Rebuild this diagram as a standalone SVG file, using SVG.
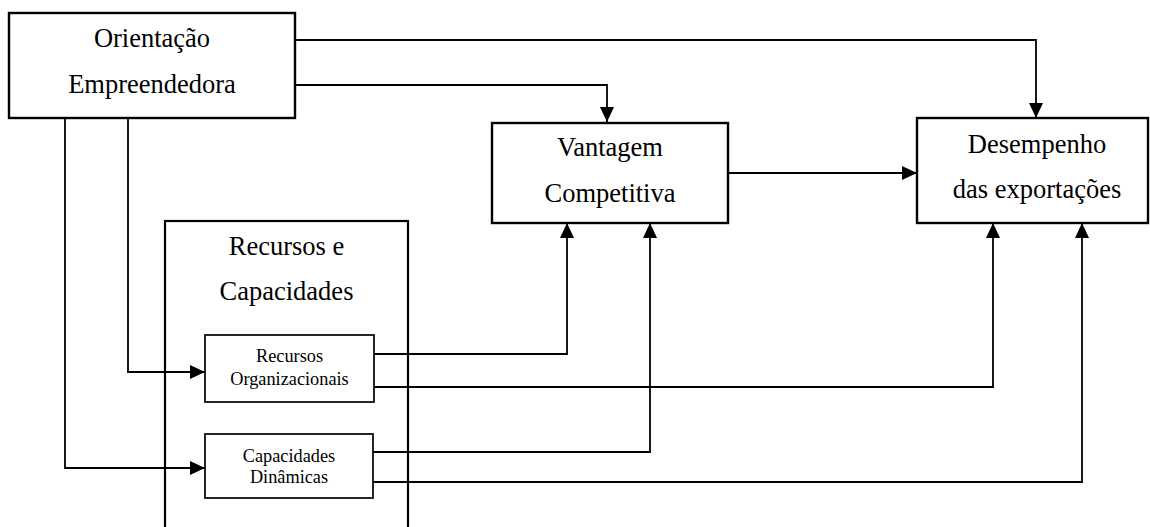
<svg xmlns="http://www.w3.org/2000/svg" width="1150" height="527" viewBox="0 0 1150 527">
<style>
.box{fill:#fff;stroke:#000;stroke-width:2.4}
.sbox{fill:#fff;stroke:#000;stroke-width:1.7}
.big{font-family:"Liberation Serif","Times New Roman",serif;font-size:26.5px;fill:#000;text-anchor:middle}
.small{font-family:"Liberation Serif","Times New Roman",serif;font-size:18.3px;fill:#000;text-anchor:middle}
.conn{fill:none;stroke:#000;stroke-width:1.8;marker-end:url(#arr)}
</style>
<defs>
<marker id="arr" markerUnits="userSpaceOnUse" markerWidth="15" markerHeight="14" refX="15" refY="7" orient="auto">
<path d="M0,0 L15,7 L0,14 z" fill="#000"/>
</marker>
</defs>
<rect width="1150" height="527" fill="#fff"/>
<g id="container-recursos-capacidades">
<rect class="sbox" x="165" y="221" width="243" height="320" style="stroke-width:2.2"/>
<text class="big" x="286.5" y="255">Recursos e</text>
<text class="big" x="286.5" y="300">Capacidades</text>
</g>
<g id="connectors">
<path class="conn" d="M295,40 H1036 V118"/>
<path class="conn" d="M295,85 H607 V122"/>
<path class="conn" d="M128,118 V372 H205"/>
<path class="conn" d="M65,118 V468 H205"/>
<path class="conn" d="M728,173 H917"/>
<path class="conn" d="M374,354 H567 V223"/>
<path class="conn" d="M374,387 H993 V223"/>
<path class="conn" d="M373,452 H650 V223"/>
<path class="conn" d="M373,482 H1082 V223"/>
</g>
<g id="orientacao">
<rect class="box" x="9" y="13" width="286" height="105"/>
<text class="big" x="152" y="47">Orientação</text>
<text class="big" x="152" y="93">Empreendedora</text>
</g>
<g id="vantagem">
<rect class="box" x="492" y="123" width="236" height="100"/>
<text class="big" x="610" y="156">Vantagem</text>
<text class="big" x="610" y="202">Competitiva</text>
</g>
<g id="desempenho">
<rect class="box" x="917" y="118" width="231" height="105"/>
<text class="big" x="1037" y="153">Desempenho</text>
<text class="big" x="1037" y="198">das exportações</text>
</g>
<g id="recursos-organizacionais">
<rect class="sbox" x="205" y="335" width="169" height="67"/>
<text class="small" x="289.5" y="362">Recursos</text>
<text class="small" x="289.5" y="385">Organizacionais</text>
</g>
<g id="capacidades-dinamicas">
<rect class="sbox" x="205" y="434" width="168" height="64"/>
<text class="small" x="289" y="462">Capacidades</text>
<text class="small" x="289" y="483">Dinâmicas</text>
</g>
</svg>
